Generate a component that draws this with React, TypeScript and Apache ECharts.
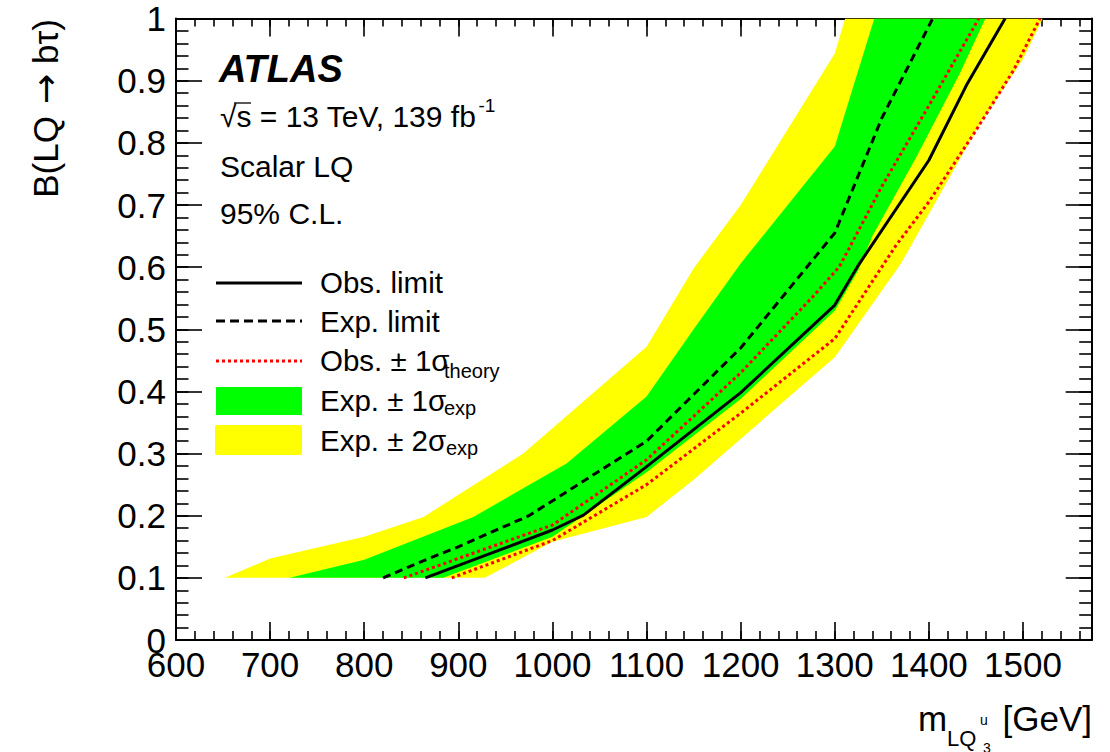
import React, { useEffect, useRef } from "react";
import * as echarts from "echarts";

// Axis ranges
const X_MIN = 600;
const X_MAX = 1573;
const Y_MIN = 0;
const Y_MAX = 1;

// Observed limit
const obsMass = [865, 930, 1000, 1033, 1100, 1200, 1300, 1325, 1400, 1440, 1481];
const obsBr = [0.1, 0.137, 0.177, 0.201, 0.279, 0.398, 0.539, 0.603, 0.772, 0.893, 1.0];

// Expected limit
const expMass = [820, 870, 900, 975, 1100, 1150, 1200, 1300, 1350, 1404];
const expBr = [0.1, 0.132, 0.15, 0.2, 0.32, 0.395, 0.47, 0.655, 0.84, 1.0];

// Observed limit with theory cross-section +1 sigma / -1 sigma
const obsUpMass = [842, 1000, 1100, 1200, 1277, 1305, 1350, 1400, 1453];
const obsUpBr = [0.1, 0.185, 0.29, 0.43, 0.553, 0.601, 0.73, 0.86, 1.0];
const obsDnMass = [893, 1000, 1100, 1200, 1300, 1365, 1400, 1450, 1490, 1518];
const obsDnBr = [0.1, 0.16, 0.25, 0.365, 0.485, 0.635, 0.705, 0.82, 0.917, 1.0];

// Expected +-1 sigma band edges
const band1LoMass = [721, 800, 916, 1015, 1100, 1150, 1200, 1250, 1300, 1342];
const band1LoBr = [0.1, 0.129, 0.198, 0.284, 0.392, 0.5, 0.606, 0.7, 0.794, 1.0];
const band1HiMass = [884, 1000, 1100, 1200, 1300, 1325, 1340, 1387, 1433, 1460];
const band1HiBr = [0.1, 0.166, 0.27, 0.388, 0.53, 0.595, 0.65, 0.778, 0.912, 1.0];

// Expected +-2 sigma band edges
const band2LoMass = [652, 700, 800, 863, 969, 1100, 1150, 1200, 1300, 1311];
const band2LoBr = [0.1, 0.131, 0.166, 0.198, 0.3, 0.472, 0.598, 0.7, 0.944, 1.0];
const band2HiMass = [928, 1000, 1100, 1150, 1300, 1370, 1450, 1500, 1521];
const band2HiBr = [0.1, 0.158, 0.198, 0.258, 0.455, 0.605, 0.82, 0.935, 1.0];

const FONT = '"Liberation Sans", Arial, Helvetica, sans-serif';
const GREEN = "#00ff00";
const YELLOW = "#ffff00";
const RED = "#ff0000";

const pairs = (xs: number[], ys: number[]) => xs.map((x, i) => [x, ys[i]]);

// closed polygon: one edge forward, the other edge backwards
const bandPolygon = (loX: number[], loY: number[], hiX: number[], hiY: number[]) =>
  pairs(loX, loY).concat(pairs(hiX, hiY).reverse());

const bandSeries = (poly: number[][], fill: string, z: number) => ({
  type: "custom",
  xAxisIndex: 0,
  yAxisIndex: 0,
  clip: true,
  silent: true,
  z,
  data: [[X_MIN, Y_MIN]],
  renderItem: (_params: any, api: any) => ({
    type: "polygon",
    shape: { points: poly.map((p) => api.coord(p)) },
    style: { fill, stroke: null },
  }),
});

const tick = (length: number) => ({
  show: true,
  inside: true,
  length,
  lineStyle: { color: "#000", width: 1.6 },
});

const xAxisDef = (position: string, interval: number, len: number, withLabels: boolean, withLine: boolean) => ({
  type: "value",
  position,
  min: X_MIN,
  max: X_MAX,
  interval,
  axisLine: { show: withLine, onZero: false, lineStyle: { color: "#000", width: 2 } },
  axisTick: tick(len),
  axisLabel: withLabels
    ? {
        show: true,
        margin: 7,
        fontSize: 35,
        fontFamily: FONT,
        color: "#000",
        formatter: (v: number) => (v % 100 === 0 ? String(v) : ""),
      }
    : { show: false },
  splitLine: { show: false },
  minorTick: { show: false },
});

const yAxisDef = (position: string, interval: number, len: number, withLabels: boolean, withLine: boolean) => ({
  type: "value",
  position,
  min: Y_MIN,
  max: Y_MAX,
  interval,
  axisLine: { show: withLine, onZero: false, lineStyle: { color: "#000", width: 2 } },
  axisTick: tick(len),
  axisLabel: withLabels
    ? { show: true, margin: 10, fontSize: 35, fontFamily: FONT, color: "#000" }
    : { show: false },
  splitLine: { show: false },
  minorTick: { show: false },
});

// width of a string in the page font, used to place super/subscripts
const measure = (text: string, size: number, weight = "normal", style = "normal") => {
  const ctx = document.createElement("canvas").getContext("2d");
  if (!ctx) return text.length * size * 0.55;
  ctx.font = `${style} ${weight} ${size}px ${FONT}`;
  return ctx.measureText(text).width;
};

const txt = (text: string, x: number, y: number, size: number, extra: any = {}) => ({
  type: "text",
  x,
  y,
  silent: true,
  rotation: extra.rotation || 0,
  z: 100,
  style: {
    text,
    fontSize: size,
    fontFamily: FONT,
    fontWeight: extra.weight || "normal",
    fontStyle: extra.style || "normal",
    fill: "#000",
    align: extra.align || "left",
    verticalAlign: "middle",
    rich: extra.rich,
  },
});

export default function App() {
  const ref = useRef<HTMLDivElement>(null);

  useEffect(() => {
    if (!ref.current) return;
    const chart = echarts.init(ref.current, null, { renderer: "svg" });

    const legendX1 = 216;
    const legendX2 = 302;
    const textX = 320;
    const subX = 444;

    const lumiText = "√s = 13 TeV, 139 fb";
    const lumiEnd = 220 + measure(lumiText, 30);

    const option: any = {
      animation: false,
      backgroundColor: "#ffffff",
      grid: { left: 176, right: 18.3, top: 18.6, bottom: 112, containLabel: false },
      xAxis: [
        xAxisDef("bottom", 100, 18, true, true),
        xAxisDef("bottom", 20, 9, false, false),
        xAxisDef("top", 100, 18, false, true),
        xAxisDef("top", 20, 8, false, false),
      ],
      yAxis: [
        yAxisDef("left", 0.1, 26, true, true),
        yAxisDef("left", 0.02, 12.5, false, false),
        yAxisDef("right", 0.1, 26, false, true),
        yAxisDef("right", 0.02, 12.5, false, false),
      ],
      series: [
        bandSeries(bandPolygon(band2LoMass, band2LoBr, band2HiMass, band2HiBr), YELLOW, 1),
        bandSeries(bandPolygon(band1LoMass, band1LoBr, band1HiMass, band1HiBr), GREEN, 2),
        {
          type: "line",
          name: "Obs. +1σ theory",
          data: pairs(obsUpMass, obsUpBr),
          showSymbol: false,
          symbol: "none",
          z: 3,
          lineStyle: { color: RED, width: 3, type: [3, 3] },
        },
        {
          type: "line",
          name: "Obs. -1σ theory",
          data: pairs(obsDnMass, obsDnBr),
          showSymbol: false,
          symbol: "none",
          z: 3,
          lineStyle: { color: RED, width: 3, type: [3, 3] },
        },
        {
          type: "line",
          name: "Exp. limit",
          data: pairs(expMass, expBr),
          showSymbol: false,
          symbol: "none",
          z: 4,
          lineStyle: { color: "#000", width: 3, type: [8, 5] },
        },
        {
          type: "line",
          name: "Obs. limit",
          data: pairs(obsMass, obsBr),
          showSymbol: false,
          symbol: "none",
          z: 5,
          lineStyle: { color: "#000", width: 3 },
        },
      ],
      graphic: [
        // experiment label block
        txt("ATLAS", 219, 69, 38, { weight: "bold", style: "italic" }),
        txt(lumiText, 220, 116, 30),
        {
          type: "line",
          silent: true,
          shape: { x1: 234, y1: 103, x2: 251, y2: 103 },
          style: { stroke: "#000", lineWidth: 1.3 },
          z: 100,
        },
        txt("-1", lumiEnd + 2, 105, 19),
        txt("Scalar LQ", 220, 166, 30),
        txt("95% C.L.", 220, 213, 30),

        // legend
        {
          type: "line",
          silent: true,
          shape: { x1: legendX1, y1: 283, x2: legendX2, y2: 283 },
          style: { stroke: "#000", lineWidth: 3 },
          z: 100,
        },
        {
          type: "line",
          silent: true,
          shape: { x1: legendX1, y1: 321, x2: legendX2, y2: 321 },
          style: { stroke: "#000", lineWidth: 3, lineDash: [9, 5] },
          z: 100,
        },
        {
          type: "line",
          silent: true,
          shape: { x1: legendX1, y1: 361, x2: legendX2, y2: 361 },
          style: { stroke: RED, lineWidth: 3, lineDash: [3, 3] },
          z: 100,
        },
        {
          type: "rect",
          silent: true,
          shape: { x: legendX1, y: 387, width: legendX2 - legendX1, height: 28 },
          style: { fill: GREEN },
          z: 100,
        },
        {
          type: "rect",
          silent: true,
          shape: { x: legendX1 - 1, y: 425, width: legendX2 - legendX1 + 1, height: 30, r: 2 },
          style: { fill: YELLOW },
          z: 100,
        },
        txt("Obs. limit", textX, 282, 29.5),
        txt("Exp. limit", textX, 321, 29.5),
        txt("Obs. ± 1σ", textX, 360, 29.5),
        txt("theory", subX, 371, 20),
        txt("Exp. ± 1σ", textX, 400, 29.5),
        txt("exp", subX, 408, 20),
        txt("Exp. ± 2σ", textX, 440, 29.5),
        txt("exp", subX + 2, 448, 20),

        // axis titles
        txt("B(LQ{arr|→}bτ)", 45, 19, 35, {
          align: "right",
          rotation: Math.PI / 2,
          rich: {
            arr: {
              fontFamily: '"DejaVu Sans", sans-serif',
              fontSize: 36,
              fill: "#000",
              padding: [0, 10, 0, 12],
            },
          },
        }),
        txt("m", 918, 718, 35),
        txt("LQ", 947, 738, 22),
        txt("u", 980, 720, 14),
        txt("3", 983, 748, 14),
        txt("[GeV]", 1092, 718, 35, { align: "right" }),
      ],
    };

    chart.setOption(option);
    return () => {
      chart.dispose();
    };
  }, []);

  return (
    <div
      ref={ref}
      style={{ position: "absolute", left: 0, top: 0, width: 1110, height: 752, background: "#fff" }}
    />
  );
}
